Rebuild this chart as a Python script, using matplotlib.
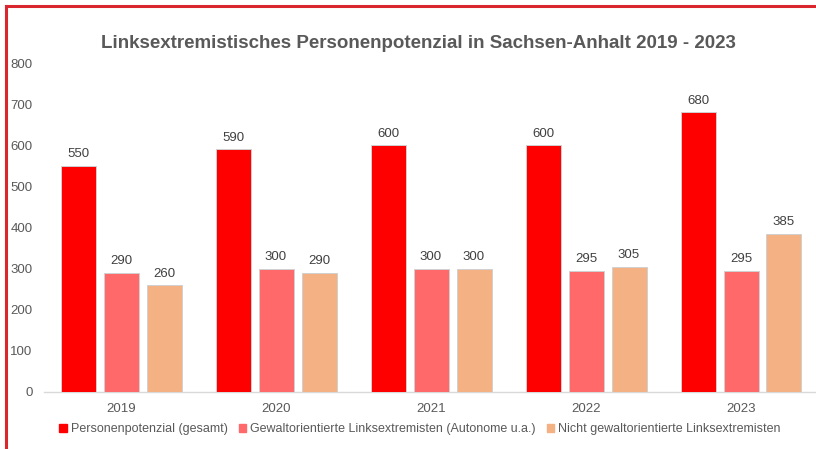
import matplotlib
matplotlib.use("Agg")
import matplotlib.pyplot as plt
import numpy as np
from matplotlib.patches import Rectangle
from matplotlib.lines import Line2D

plt.rcParams['font.family'] = ['Liberation Sans', 'DejaVu Sans']

years = ["2019", "2020", "2021", "2022", "2023"]
gesamt = [550, 590, 600, 600, 680]
gewalt = [290, 300, 300, 295, 295]
nicht_gewalt = [260, 290, 300, 305, 385]
series_names = ["Personenpotenzial (gesamt)",
                "Gewaltorientierte Linksextremisten (Autonome u.a.)",
                "Nicht gewaltorientierte Linksextremisten"]
colors = ["#ff0000", "#ff6969", "#f4b183"]
title = "Linksextremistisches Personenpotenzial in Sachsen-Anhalt 2019 - 2023"

W, H = 816, 449
fig = plt.figure(figsize=(W/100, H/100), dpi=100)
ax = fig.add_axes([43.5/W, 1-392/H, 775/W, (392-63)/H])

x = np.arange(len(years))
bw = 35/155
off = 43/155
txt = "#595959"
for i, (vals, c) in enumerate(zip([gesamt, gewalt, nicht_gewalt], colors)):
    bars = ax.bar(x + (i-1)*off, vals, width=bw, color=c, edgecolor="#d0d0d0",
                  linewidth=0.7, label=series_names[i], zorder=3)
    for b, v in zip(bars, vals):
        ax.annotate(str(v), (b.get_x()+b.get_width()/2, v), xytext=(0, 4),
                    textcoords="offset points", ha="center", va="bottom",
                    fontsize=9.5, color="#404040")

ax.set_xlim(-0.5, len(years)-0.5)
ax.set_ylim(0, 800)
ax.set_yticks(range(0, 801, 100))
ax.set_xticks(x)
ax.set_xticklabels(years)
for s in ["top", "right", "left"]:
    ax.spines[s].set_visible(False)
ax.spines["bottom"].set_color("#d9d9d9")
ax.spines["bottom"].set_linewidth(1)
ax.tick_params(axis="both", length=0, labelsize=9.5, colors=txt)
ax.tick_params(axis="y", pad=8)
ax.tick_params(axis="x", pad=8)
ax.patch.set_alpha(0)

fig.text(418/W, 1-44/H, title, ha="center", va="center", fontsize=13.5,
         fontweight="bold", color=txt)

handles = [Rectangle((0, 0), 1, 1, color=c) for c in colors]
leg = fig.legend(handles, series_names, loc="center", bbox_to_anchor=(420/W, 1-429/H),
                 ncol=3, frameon=False, fontsize=9, handlelength=0.6, handleheight=0.6,
                 handletextpad=0.3, columnspacing=0.9)
for t in leg.get_texts():
    t.set_color(txt)

# red frame
fig.add_artist(Line2D([6/W, 1], [1-6/H, 1-6/H], color="#d9262f", lw=2.2, transform=fig.transFigure))
fig.add_artist(Line2D([6/W, 6/W], [0, 1-6/H], color="#d9262f", lw=2.2, transform=fig.transFigure))

fig.savefig("out.png", dpi=100)
